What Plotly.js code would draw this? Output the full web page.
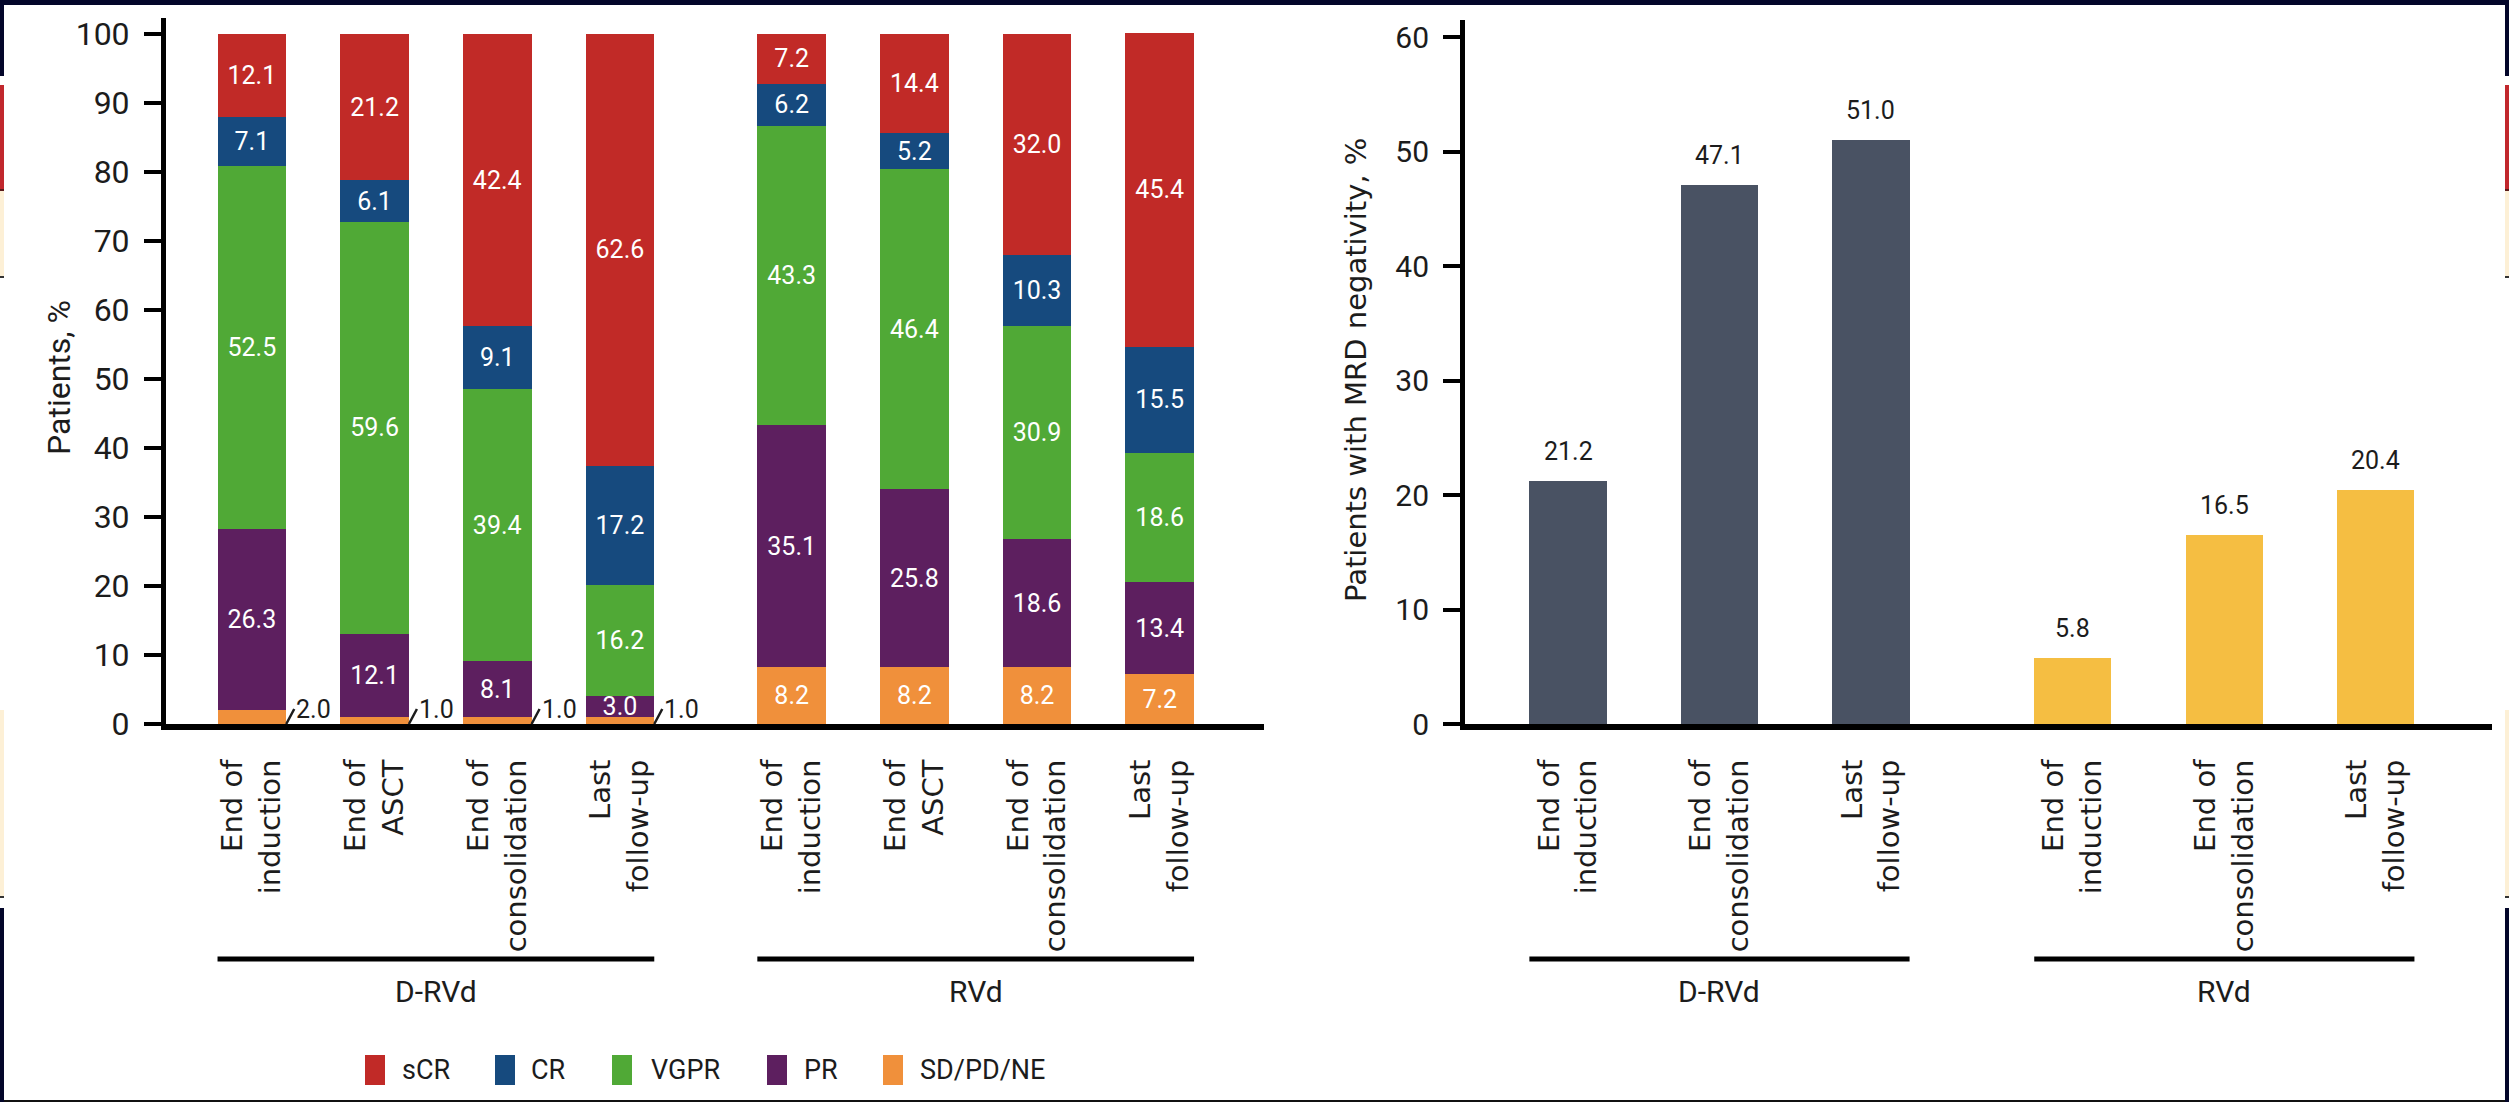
<!DOCTYPE html>
<html>
<head>
<meta charset="utf-8">
<script src="https://cdn.plot.ly/plotly-3.0.1.min.js"></script>
<style>
html, body { margin: 0; padding: 0; background: #ffffff; }
#chart { width: 2509px; height: 1102px; }
</style>
</head>
<body>
<div id="chart"></div>
<script>
// ---- Best response over time (stacked %, per arm) ----
const timepoints4 = ['End of<br>induction', 'End of<br>ASCT', 'End of<br>consolidation', 'Last<br>follow-up'];

const sCR_DRVd  = [12.1, 21.2, 42.4, 62.6];
const CR_DRVd   = [7.1, 6.1, 9.1, 17.2];
const VGPR_DRVd = [52.5, 59.6, 39.4, 16.2];
const PR_DRVd   = [26.3, 12.1, 8.1, 3.0];
const SD_DRVd   = [2.0, 1.0, 1.0, 1.0];

const sCR_RVd   = [7.2, 14.4, 32.0, 45.4];
const CR_RVd    = [6.2, 5.2, 10.3, 15.5];
const VGPR_RVd  = [43.3, 46.4, 30.9, 18.6];
const PR_RVd    = [35.1, 25.8, 18.6, 13.4];
const SD_RVd    = [8.2, 8.2, 8.2, 7.2];

const responseNames  = ['sCR', 'CR', 'VGPR', 'PR', 'SD/PD/NE'];
const responseColors = ['#c12a27', '#164a7e', '#50a936', '#5d1f5f', '#f0903b'];

// ---- MRD negativity ----
const timepoints3 = ['End of<br>induction', 'End of<br>consolidation', 'Last<br>follow-up'];
const mrdDRVd = [21.2, 47.1, 51.0];
const mrdRVd  = [5.8, 16.5, 20.4];
const armNames  = ['D-RVd', 'RVd'];
const armColors = ['#495263', '#f5be42'];

// ---- styling ----
const NARROW = "Roboto, 'Liberation Sans', sans-serif";
const WIDE = "'DejaVu Sans', Verdana, sans-serif";
const INK = '#1c1c1c';
const W = 2509, H = 1102;
const px = v => v / W;
const py = v => 1 - v / H;

// bar slots: two arms side by side with a wider gap between arms
const leftGap = 1.4, rightGap = 1.333;
const leftPos  = [0, 1, 2, 3].map(i => i).concat([0, 1, 2, 3].map(i => i + 3 + leftGap));
const rightPos = [0, 1, 2].map(i => i).concat([0, 1, 2].map(i => i + 2 + rightGap));
const leftBarW = 0.56, rightBarW = 0.51;

const seriesDRVd = [sCR_DRVd, CR_DRVd, VGPR_DRVd, PR_DRVd, SD_DRVd];
const seriesRVd  = [sCR_RVd, CR_RVd, VGPR_RVd, PR_RVd, SD_RVd];

const traces = [];
const annotations = [];
const SMALL = 2.5;

// stacked from the bottom: SD/PD/NE, PR, VGPR, CR, sCR
for (let k = responseNames.length - 1; k >= 0; k--) {
  const vals = seriesDRVd[k].concat(seriesRVd[k]);
  traces.push({
    type: 'bar', name: responseNames[k],
    x: leftPos, y: vals, width: leftBarW,
    xaxis: 'x', yaxis: 'y',
    marker: { color: responseColors[k], line: { width: 0 } },
    text: vals.map(v => v < SMALL ? '' : v.toFixed(1)),
    textposition: 'inside', insidetextanchor: 'middle',
    textangle: 0, constraintext: 'none',
    textfont: { family: NARROW, size: 25, color: '#ffffff' },
    hoverinfo: 'skip', showlegend: false
  });
  // thin segments get their value outside with a short leader
  vals.forEach((v, i) => {
    if (v < SMALL) {
      annotations.push({
        xref: 'x', yref: 'y', x: leftPos[i] + leftBarW / 2, y: 0,
        text: v.toFixed(1), showarrow: true, arrowhead: 0, arrowwidth: 2.5,
        arrowcolor: INK, ax: 8, ay: -15, xanchor: 'left', yanchor: 'middle',
        font: { family: NARROW, size: 25, color: INK }
      });
    }
  });
}

// MRD negativity bars
[mrdDRVd, mrdRVd].forEach((vals, a) => {
  const xs = rightPos.slice(a * 3, a * 3 + 3);
  traces.push({
    type: 'bar', name: armNames[a], x: xs, y: vals, width: rightBarW,
    xaxis: 'x2', yaxis: 'y2',
    marker: { color: armColors[a], line: { width: 0 } },
    hoverinfo: 'skip', showlegend: false
  });
  vals.forEach((v, i) => {
    annotations.push({
      xref: 'x2', yref: 'y2', x: xs[i], y: v, text: v.toFixed(1),
      showarrow: false, yanchor: 'bottom', yshift: 13,
      font: { family: NARROW, size: 25, color: INK }
    });
  });
});

// arm brackets under the category labels
const shapes = [];
function armBracket(xref, x0, x1, label) {
  shapes.push({ type: 'line', xref: xref, yref: 'paper', x0: x0, x1: x1,
    y0: py(959), y1: py(959), line: { color: '#000', width: 5 } });
  annotations.push({ xref: xref, yref: 'paper', x: (x0 + x1) / 2, y: py(991),
    text: label, showarrow: false, xanchor: 'center', yanchor: 'middle',
    font: { family: NARROW, size: 30, color: INK } });
}
armBracket('x', leftPos[0] - leftBarW / 2, leftPos[3] + leftBarW / 2, armNames[0]);
armBracket('x', leftPos[4] - leftBarW / 2, leftPos[7] + leftBarW / 2, armNames[1]);
armBracket('x2', rightPos[0] - rightBarW / 2, rightPos[2] + rightBarW / 2, armNames[0]);
armBracket('x2', rightPos[3] - rightBarW / 2, rightPos[5] + rightBarW / 2, armNames[1]);

// axis titles
annotations.push({ xref: 'paper', yref: 'paper', x: px(38), y: py(378),
  text: 'Patients, %', textangle: -90, showarrow: false,
  font: { family: NARROW, size: 32, color: INK } });
annotations.push({ xref: 'paper', yref: 'paper', x: px(1356), y: py(370),
  text: 'Patients with MRD negativity, %', textangle: -90, showarrow: false,
  font: { family: WIDE, size: 29, color: INK } });

// legend for the response categories
const legendSwatchX = [365, 495, 612, 767, 883];
const legendTextX   = [400, 529, 649, 802, 918];
responseNames.forEach((n, k) => {
  shapes.push({ type: 'rect', xref: 'paper', yref: 'paper',
    x0: px(legendSwatchX[k]), x1: px(legendSwatchX[k] + 20),
    y0: py(1085), y1: py(1055), fillcolor: responseColors[k], line: { width: 0 } });
  annotations.push({ xref: 'paper', yref: 'paper', x: px(legendTextX[k]), y: py(1070),
    text: n, showarrow: false, xanchor: 'left', yanchor: 'middle',
    font: { family: NARROW, size: 27, color: INK } });
});

// page frame
const NAVY = '#03062a', CREAM = '#fdf0d6', RED = '#c1272d';
function strip(x0, x1, y0, y1, c) {
  shapes.push({ type: 'rect', xref: 'paper', yref: 'paper', layer: 'above',
    x0: px(x0), x1: px(x1), y0: py(y1), y1: py(y0), fillcolor: c, line: { width: 0 } });
}
strip(0, W, 0, 5, NAVY);
strip(0, W, 1100, H, '#111');
[[0, 4], [W - 4, W]].forEach(([a, b]) => {
  strip(a, b, 0, 76, NAVY);
  strip(a, b, 85, 189, RED);
  strip(a, b, 189, 191, '#5a1a1a');
  strip(a, b, 191, 276, CREAM);
  strip(a, b, 276, 278, '#333');
  strip(a, b, 710, 896, CREAM);
  strip(a, b, 896, 898, '#333');
  strip(a, b, 908, H, NAVY);
});

const baseX = {
  showgrid: false, zeroline: false, showline: true, linecolor: '#000', linewidth: 6,
  ticks: '', tickangle: -90, automargin: false, fixedrange: true,
  tickfont: { family: WIDE, size: 29, color: INK }, ticklabelstandoff: 18
};
const baseY = {
  showgrid: false, zeroline: false, showline: true, linecolor: '#000', linewidth: 5,
  ticks: 'outside', ticklen: 17, tickwidth: 4, tickcolor: '#000',
  automargin: false, fixedrange: true, ticklabelstandoff: 8
};
const boundaryTicks = {
  showgrid: false, zeroline: false, showline: false, showticklabels: false,
  ticks: 'outside', ticklen: 17, tickwidth: 4, tickcolor: '#000',
  automargin: false, fixedrange: true
};

const leftRange = [-0.7, 8.25];
const rightRange = [-0.68, 6.1];

const layout = {
  width: W, height: H,
  margin: { l: 0, r: 0, t: 0, b: 0, autoexpand: false },
  paper_bgcolor: '#ffffff', plot_bgcolor: 'rgba(0,0,0,0)',
  barmode: 'stack', showlegend: false,
  xaxis: Object.assign({}, baseX, {
    domain: [px(166), px(1264)], range: leftRange, anchor: 'y',
    tickmode: 'array', tickvals: leftPos, ticktext: timepoints4.concat(timepoints4)
  }),
  xaxis3: Object.assign({}, boundaryTicks, {
    overlaying: 'x', anchor: 'y', range: leftRange,
    tickmode: 'array', tickvals: [-0.7, 3 + leftGap / 2, 7.4 + 0.72]
  }),
  yaxis: Object.assign({}, baseY, {
    domain: [py(724), py(18)], range: [0, 102.3], anchor: 'x',
    tickmode: 'array', tickvals: [0, 10, 20, 30, 40, 50, 60, 70, 80, 90, 100],
    tickfont: { family: NARROW, size: 32, color: INK }
  }),
  xaxis2: Object.assign({}, baseX, {
    domain: [px(1465), px(2492)], range: rightRange, anchor: 'y2',
    tickmode: 'array', tickvals: rightPos, ticktext: timepoints3.concat(timepoints3)
  }),
  xaxis4: Object.assign({}, boundaryTicks, {
    overlaying: 'x2', anchor: 'y2', range: rightRange,
    tickmode: 'array', tickvals: [-0.68, 2 + rightGap / 2, 5.333 + 0.67]
  }),
  yaxis2: Object.assign({}, baseY, {
    domain: [py(724), py(20)], range: [0, 61.5], anchor: 'x2',
    tickmode: 'array', tickvals: [0, 10, 20, 30, 40, 50, 60],
    tickfont: { family: NARROW, size: 30, color: INK }
  }),
  shapes: shapes,
  annotations: annotations
};

Plotly.newPlot('chart', traces, layout, { displayModeBar: false, staticPlot: true });
</script>
</body>
</html>
